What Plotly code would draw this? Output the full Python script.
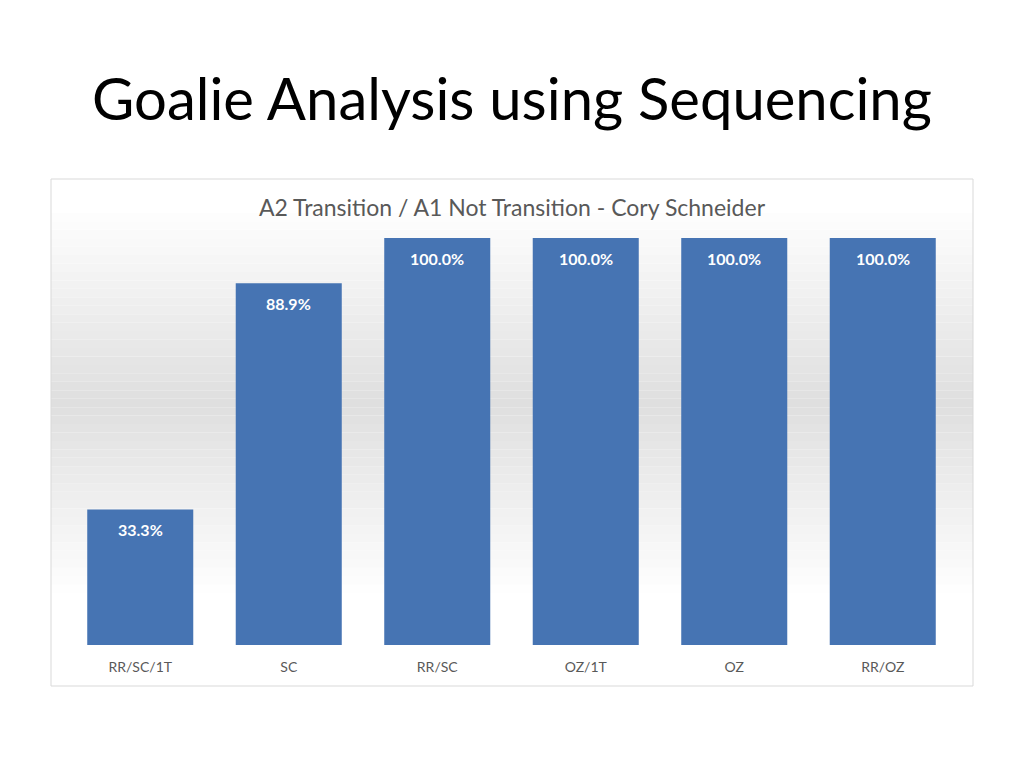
import plotly.graph_objects as go

# Data
categories = ["RR/SC/1T", "SC", "RR/SC", "OZ/1T", "OZ", "RR/OZ"]
save_pct = [0.333, 0.889, 1.0, 1.0, 1.0, 1.0]

slide_title = "Goalie Analysis using Sequencing"
chart_title = "A2 Transition / A1 Not Transition - Cory Schneider"

FONT = "Lato, Open Sans, sans-serif"

# page has an 8px body margin, so work in screen pixels and convert
W, H, OFF = 1008, 752, 8


def px(x):
    return (x - OFF) / W


def py(y):
    return 1 - (y - OFF) / H


fig = go.Figure()
fig.add_trace(go.Bar(
    x=categories,
    y=save_pct,
    marker=dict(color="#4674b3", line=dict(width=0)),
    hoverinfo="skip",
))

# value labels inside the top of each bar
for c, v in zip(categories, save_pct):
    fig.add_annotation(
        x=c, y=v, text=f"{v:.1%}", showarrow=False, yshift=-20,
        font=dict(family=FONT, size=16, color="white", weight="bold"),
    )

# chart box background: soft gray band in the middle
shapes = []
box_top, box_bot = py(179), py(686)
n = 60
for i in range(n):
    y0 = box_bot + (box_top - box_bot) * i / n
    y1 = box_bot + (box_top - box_bot) * (i + 1) / n
    t = (i + 0.5) / n  # 0 bottom, 1 top
    d = max(0.0, 1 - abs(t - 0.56) / 0.38)
    g = int(255 - 32 * d)
    shapes.append(dict(type="rect", xref="paper", yref="paper",
                       x0=px(51), x1=px(973), y0=y0, y1=y1,
                       fillcolor=f"rgb({g},{g},{g})", line=dict(width=0),
                       layer="below"))
shapes.append(dict(type="rect", xref="paper", yref="paper",
                   x0=px(51), x1=px(973), y0=box_bot, y1=box_top,
                   line=dict(color="#d9d9d9", width=1), layer="below"))

fig.update_layout(
    width=W, height=H,
    margin=dict(l=0, r=0, t=0, b=0),
    paper_bgcolor="white",
    plot_bgcolor="rgba(0,0,0,0)",
    showlegend=False,
    bargap=0.286,
    shapes=shapes,
    xaxis=dict(domain=[px(66), px(957)], showgrid=False, zeroline=False,
               showline=False, ticks="", ticklabelstandoff=12,
               tickfont=dict(family=FONT, size=14, color="#595959")),
    yaxis=dict(domain=[py(645), py(238)], range=[0, 1], visible=False),
    annotations=list(fig.layout.annotations) + [
        dict(text=slide_title, xref="paper", yref="paper", x=0.5, y=py(98),
             yanchor="middle", showarrow=False,
             font=dict(family=FONT, size=58, color="black")),
        dict(text=chart_title, xref="paper", yref="paper", x=0.5, y=py(207),
             yanchor="middle", showarrow=False,
             font=dict(family=FONT, size=23, color="#595959")),
    ],
)

fig.write_html("out.html")
